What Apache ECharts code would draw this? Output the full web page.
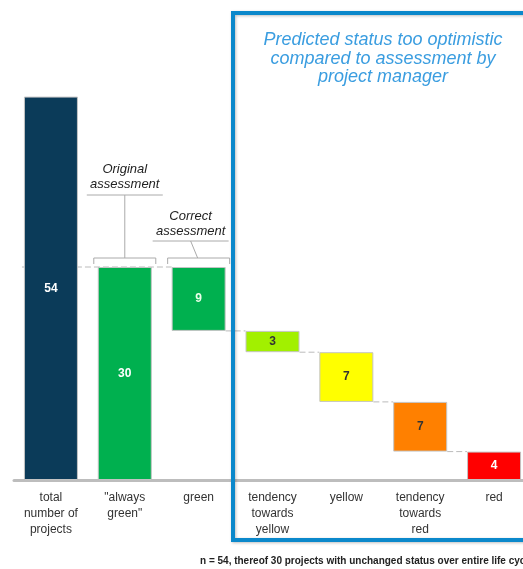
<!DOCTYPE html>
<html><head><meta charset="utf-8">
<script src="https://cdn.jsdelivr.net/npm/echarts@6/dist/echarts.min.js"></script>
<style>html,body{margin:0;padding:0;background:#fff}#c{width:523px;height:569px}</style>
</head><body><div id="c"></div>
<script>
const categories = ['total\nnumber of\nprojects', '"always\ngreen"', 'green', 'tendency\ntowards\nyellow', 'yellow', 'tendency\ntowards\nred', 'red'];
const values = [54, 30, 9, 3, 7, 7, 4];
const barColors = ['#0b3b59', '#00b04f', '#00b04f', '#a2f000', '#ffff00', '#ff8000', '#ff0000'];
const labelColors = ['#ffffff', '#ffffff', '#eaffea', '#333333', '#333333', '#333333', '#ffffff'];
const titleText = 'Predicted status too optimistic\ncompared to assessment by\nproject manager';
const footerText = 'n = 54, thereof 30 projects with unchanged status over entire life cycle';

// waterfall bases: bars 0,1 start at zero, the rest step down from "always green"
const bases = [];
let running = values[1];
values.forEach((v, i) => {
  if (i < 2) { bases.push(0); }
  else { running -= v; bases.push(running); }
});

const chart = echarts.init(document.getElementById('c'), null, {renderer: 'canvas'});
chart.setOption({
  animation: false,
  backgroundColor: '#ffffff',
  grid: {left: 14, width: 517, top: 54, bottom: 89, outerBoundsMode: 'none', containLabel: false},
  xAxis: {
    type: 'category', data: categories,
    axisTick: {show: false},
    axisLine: {lineStyle: {color: '#bdbdbd', width: 3}},
    axisLabel: {interval: 0, margin: 10, color: '#333', fontFamily: 'Liberation Sans, Arial', fontSize: 12, lineHeight: 16}
  },
  yAxis: {type: 'value', min: 0, max: 60, show: false, splitLine: {show: false}},
  series: [
    {type: 'bar', stack: 'w', barWidth: 54, data: bases, itemStyle: {color: 'transparent'}, silent: true},
    {type: 'bar', stack: 'w', barWidth: 54,
     data: values.map((v, i) => ({value: v, itemStyle: {color: barColors[i]}, label: {color: labelColors[i]}})),
     itemStyle: {borderColor: '#c4c4c4', borderWidth: 1},
     label: {show: true, position: 'inside', fontFamily: 'Liberation Sans, Arial', fontSize: 12, fontWeight: 'bold'}
    }
  ]
});

const px = (i, v) => chart.convertToPixel({xAxisIndex: 0, yAxisIndex: 0}, [i, v]);
const hw = 27;
const g = [];
const dash = {stroke: '#bbbbbb', lineWidth: 1, lineDash: [6, 3]};
// level of "always green" carried across
const top30 = px(1, values[1]);
g.push({type: 'line', z: 0, shape: {x1: px(0, 0)[0] - hw - 2, y1: top30[1], x2: px(2, 0)[0] - hw, y2: top30[1]}, style: dash});
// waterfall connectors
for (let i = 2; i < values.length - 1; i++) {
  const a = px(i, bases[i]);
  const b = px(i + 1, bases[i]);
  g.push({type: 'line', z: 0, shape: {x1: a[0] + hw, y1: a[1], x2: b[0] - hw, y2: b[1]}, style: dash});
}
// brackets
const br = {stroke: '#aaaaaa', lineWidth: 1, fill: 'none'};
function bracket(i) {
  const c = px(i, values[1]);
  const y = c[1] - 9;
  g.push({type: 'polyline', shape: {points: [[c[0] - hw - 4, y + 6], [c[0] - hw - 4, y], [c[0] + hw + 4, y], [c[0] + hw + 4, y + 6]]}, style: br});
  return [c[0], y];
}
const b1 = bracket(1);
g.push({type: 'line', shape: {x1: b1[0], y1: b1[1], x2: b1[0], y2: b1[1] - 63}, style: br});
g.push({type: 'line', shape: {x1: b1[0] - 38, y1: b1[1] - 63, x2: b1[0] + 38, y2: b1[1] - 63}, style: br});
g.push({type: 'text', style: {text: 'Original\nassessment', x: b1[0], y: b1[1] - 66, textAlign: 'center', textVerticalAlign: 'bottom', fontFamily: 'Liberation Sans, Arial', fontStyle: 'italic', fontSize: 13, lineHeight: 15, fill: '#222'}});
const b2 = bracket(2);
g.push({type: 'line', shape: {x1: b2[0] - 1, y1: b2[1], x2: b2[0] - 8, y2: b2[1] - 17}, style: br});
g.push({type: 'line', shape: {x1: b2[0] - 46, y1: b2[1] - 17, x2: b2[0] + 30, y2: b2[1] - 17}, style: br});
g.push({type: 'text', style: {text: 'Correct\nassessment', x: b2[0] - 8, y: b2[1] - 19, textAlign: 'center', textVerticalAlign: 'bottom', fontFamily: 'Liberation Sans, Arial', fontStyle: 'italic', fontSize: 13, lineHeight: 15, fill: '#222'}});
// blue box
g.push({type: 'rect', z: 10, shape: {x: 233, y: 13, width: 330, height: 527}, style: {fill: 'none', stroke: '#0b88cb', lineWidth: 4, shadowBlur: 3, shadowColor: 'rgba(0,0,0,0.25)', shadowOffsetX: 1, shadowOffsetY: 1}});
g.push({type: 'text', z: 10, style: {text: titleText, x: 383, y: 31, textAlign: 'center', fontFamily: 'Liberation Sans, Arial', fontStyle: 'italic', fontSize: 18, lineHeight: 18.5, fill: '#3a9de0'}});
g.push({type: 'text', style: {text: footerText, x: 200, y: 556, fontFamily: 'Liberation Sans, Arial', fontSize: 10, fontWeight: 'bold', fill: '#222'}});
chart.setOption({graphic: g});
</script>
</body></html>
